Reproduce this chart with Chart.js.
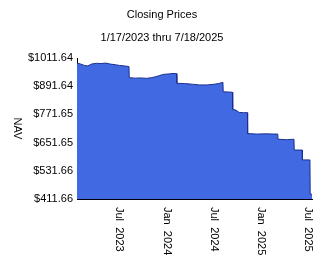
<!DOCTYPE html>
<html>
<head>
<meta charset="utf-8">
<script src="https://cdn.jsdelivr.net/npm/chart.js@4.4.1/dist/chart.umd.min.js"></script>
<style>
  body { margin: 0; background: #fff; }
</style>
</head>
<body>
<canvas id="navChart" width="324" height="267"></canvas>
<script>
// closing prices (drops are distribution days)
const closeDates = [
  '2023-01-17','2023-01-31','2023-02-15','2023-02-28','2023-03-15','2023-04-03',
  '2023-04-20','2023-05-10','2023-05-25','2023-06-15','2023-07-01','2023-07-20',
  '2023-08-07','2023-08-08','2023-08-31','2023-09-20','2023-10-15','2023-11-02',
  '2023-11-20','2023-12-03','2023-12-20','2024-01-10','2024-01-25','2024-02-08',
  '2024-02-09','2024-03-10','2024-04-10','2024-05-06','2024-06-05','2024-07-03',
  '2024-07-20','2024-08-06','2024-08-07','2024-08-25','2024-09-12','2024-09-13',
  '2024-09-25','2024-10-08','2024-10-25','2024-11-09','2024-11-10','2024-12-15',
  '2025-01-20','2025-02-20','2025-03-07','2025-03-08','2025-04-10','2025-05-09',
  '2025-05-10','2025-06-10','2025-06-11','2025-07-10','2025-07-11','2025-07-18'
];
const closeValues = [
  990, 986, 980, 978, 986, 989,
  988, 990, 986, 983, 980, 978,
  975, 928, 926, 927, 925, 928,
  932, 937, 942, 944, 946, 945,
  904, 903, 900, 897, 897, 900,
  903, 908, 868, 867, 866, 793,
  790, 780, 779, 779, 690, 688,
  689, 688, 688, 666, 664, 666,
  620, 620, 578, 578, 432, 432
];

// axis ticks
const yTicks = [411.66, 531.66, 651.65, 771.65, 891.64, 1011.64];
const xTickDates = ['2023-07-01', '2024-01-01', '2024-07-01', '2025-01-01', '2025-07-01'];
const xTickLabels = ['Jul  2023', 'Jan  2024', 'Jul  2024', 'Jan  2025', 'Jul  2025'];
const startDate = '2023-01-17';
const endDate = '2025-07-18';

const chartTitle = 'Closing Prices';
const chartSubtitle = '1/17/2023 thru 7/18/2025';
const yTitle = 'NAV';

const FONT = '"Liberation Sans Narrow", "Liberation Sans", Arial, sans-serif';

const points = closeDates.map((d, i) => ({ x: Date.parse(d), y: closeValues[i] }));

//Draw titles, rotated x labels and the NAV label
const textPlugin = {
  id: 'textPlugin',
  afterDraw(chart) {
    const c = chart.ctx;
    const xScale = chart.scales.x;
    c.save();
    c.fillStyle = '#000';
    c.font = '11px ' + FONT;
    c.textAlign = 'center';
    c.textBaseline = 'middle';
    c.fillText(chartTitle, 162, 15);
    c.fillText(chartSubtitle, 162, 38);

    xTickDates.forEach((d, i) => {
      const px = xScale.getPixelForValue(Date.parse(d));
      c.save();
      c.translate(px, 207);
      c.rotate(Math.PI / 2);
      c.textAlign = 'left';
      c.fillText(xTickLabels[i], 0, 0);
      c.restore();
    });

    const area = chart.chartArea;
    c.translate(17, (area.top + area.bottom) / 2);
    c.rotate(Math.PI / 2);
    c.textAlign = 'center';
    c.fillText(yTitle, 0, 0);
    c.restore();
  }
};

const ctx = document.getElementById('navChart');
const navChart = new Chart(ctx, {
  type: 'line',
  data: {
    datasets: [{
      data: points,
      fill: 'start',
      backgroundColor: '#4169E1',
      borderColor: '#1c2f8f',
      borderWidth: 1,
      pointRadius: 0,
      tension: 0
    }]
  },
  options: {
    responsive: false,
    devicePixelRatio: 1,
    animation: false,
    layout: { padding: { top: 58, right: 12, left: 0, bottom: 0 } },
    plugins: {
      legend: { display: false },
      tooltip: { enabled: false }
    },
    scales: {
      x: {
        type: 'linear',
        min: Date.parse(startDate),
        max: Date.parse(endDate),
        grid: { display: false, drawTicks: false },
        border: { display: true, color: '#000', width: 1 },
        ticks: { display: false },
        afterFit(scale) { scale.height = 68; }
      },
      y: {
        min: yTicks[0],
        max: yTicks[yTicks.length - 1],
        grid: { display: false, drawTicks: false },
        border: { display: true, color: '#000', width: 1 },
        afterBuildTicks(scale) {
          scale.ticks = yTicks.map(v => ({ value: v }));
        },
        ticks: {
          padding: 4,
          color: '#000',
          font: { size: 11, family: FONT },
          callback: v => '$' + v.toFixed(2)
        },
        afterFit(scale) { scale.width = 77; }
      }
    }
  },
  plugins: [textPlugin]
});
</script>
</body>
</html>
